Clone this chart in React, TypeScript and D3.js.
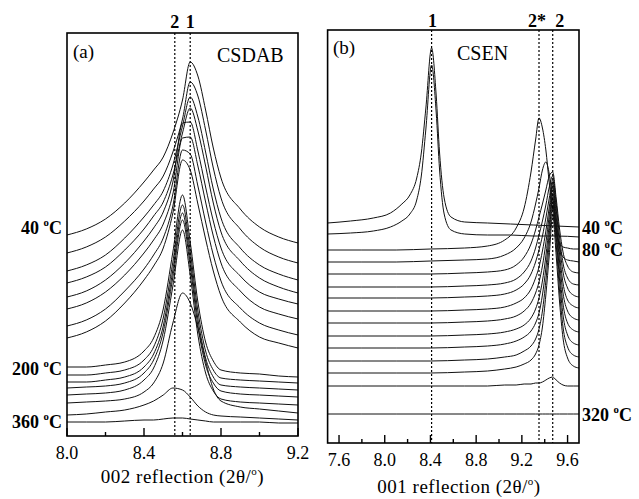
import React from 'react';
import * as d3 from 'd3';

// ---------- Panel (a): CSDAB, 002 reflection ----------
const XA = [8.0, 8.1, 8.2, 8.3, 8.4, 8.45, 8.5, 8.55, 8.6, 8.64, 8.68, 8.72, 8.76, 8.8, 8.9, 9.0, 9.1, 9.2];
// vertical offsets of each stacked pattern (top = 40 °C)
const offsetA = [201, 183, 165, 153, 139, 127, 110, 98, 69, 61, 54, 48, 41, 33, 21, 14];
const intensityA = [
  [0, 6, 16, 32, 53, 65, 78, 102, 135, 173, 159, 125, 87, 57, 26, 8, -2, -8],
  [0, 6, 16, 32, 52, 64, 77, 101, 134, 171, 157, 123, 85, 55, 24, 6, -4, -10],
  [0, 6, 16, 33, 54, 66, 80, 106, 145, 174, 154, 119, 82, 53, 23, 6, -3, -9],
  [0, 6, 16, 33, 54, 67, 81, 108, 150, 175, 152, 117, 80, 51, 22, 5, -4, -10],
  [0, 6, 17, 34, 56, 69, 85, 115, 174, 175, 146, 110, 76, 49, 21, 5, -2, -7],
  [0, 6, 17, 34, 56, 69, 85, 115, 171, 172, 143, 107, 73, 46, 18, 2, -5, -10],
  [0, 6, 17, 35, 57, 71, 88, 120, 176, 172, 140, 104, 71, 45, 18, 3, -4, -9],
  [0, 6, 17, 35, 58, 72, 90, 125, 178, 168, 134, 99, 67, 42, 16, 1, -5, -10],
  [0, 0, 2, 5, 16, 29, 58, 115, 172, 125, 65, 25, 6, -3, -6, -7, -9, -10],
  [0, 0, 2, 5, 15, 28, 57, 113, 170, 124, 64, 24, 5, -3, -5, -6, -7, -8],
  [0, 0, 2, 5, 15, 28, 56, 112, 169, 123, 63, 24, 5, -3, -5, -6, -7, -8],
  [0, 1, 2, 5, 15, 28, 56, 111, 168, 122, 62, 23, 5, -3, -6, -7, -8, -9],
  [0, 1, 2, 5, 15, 27, 55, 109, 165, 120, 60, 22, 4, -4, -7, -8, -9, -10],
  [0, 1, 2, 4, 11, 20, 40, 80, 110, 100, 75, 42, 14, 2, -4, -6, -8, -10],
  [0, 1, 3, 5, 10, 14, 20, 27, 25, 18, 9, 3, 0, -1, -2, -3, -4, -5],
  [0, 0, 0, 1, 2, 2, 3, 4, 4, 3, 2, 1, 0, 0, 0, 0, -1, -1],
];
const labelTextA = ['40', '200', '360'];
const labelCurveA = [0, 8, 15];
const peakPosA = [8.56, 8.64];
const peakLabelA = ['2', '1'];

// ---------- Panel (b): CSEN, 001 reflection ----------
const XB1 = [7.5, 7.7, 7.9, 8.05, 8.15, 8.22, 8.28, 8.32, 8.36, 8.41, 8.45, 8.48, 8.52, 8.58, 8.7, 8.9, 9.1, 9.3, 9.5, 9.7];
const XB2 = [7.5, 7.8, 8.1, 8.4, 8.7, 8.9, 9.05, 9.15, 9.22, 9.28, 9.32, 9.35, 9.38, 9.41, 9.44, 9.47, 9.5, 9.53, 9.56, 9.6, 9.65, 9.7];
const offsetB = [220, 209, 193, 181, 169, 156, 145, 132, 120, 107, 95, 82, 70, 57, 29];
// first two patterns (peak 1), sampled on XB1
const intensityB1 = [
  [0, 2, 5, 10, 19, 28, 45, 70, 115, 175, 128, 70, 25, 6, 1, 0, -1, -2, -3, -4],
  [0, 1, 3, 7, 13, 20, 34, 58, 105, 169, 122, 64, 20, 4, 0, -1, -1, -2, -2, -3],
];
// remaining patterns (peaks 2* / 2), sampled on XB2
const intensityB2 = [
  [0, 0, 0, 1, 2, 4, 10, 22, 42, 78, 110, 132, 122, 100, 67, 40, 18, 7, 3, 2, 1, 1],
  [0, 0, 0, 1, 2, 3, 7, 14, 24, 40, 58, 74, 92, 100, 88, 62, 35, 14, 5, 2, 1, 0],
  [0, 0, 0, 0, 1, 2, 4, 9, 17, 30, 44, 57, 70, 84, 98, 102, 76, 45, 22, 8, 2, 1],
  [0, 0, 0, 0, 1, 2, 4, 8, 15, 26, 39, 52, 66, 82, 100, 111, 84, 50, 24, 9, 3, 2],
  [0, 0, 0, 0, 1, 2, 4, 8, 14, 24, 36, 48, 62, 80, 100, 118, 89, 53, 26, 10, 3, 1],
  [0, 0, 0, 0, 1, 2, 4, 8, 13, 22, 33, 44, 60, 80, 104, 127, 95, 57, 28, 11, 5, 3],
  [0, 0, 0, 0, 1, 2, 4, 7, 12, 20, 30, 41, 57, 80, 108, 135, 101, 61, 30, 12, 5, 3],
  [0, 0, 0, 0, 1, 2, 4, 7, 11, 18, 27, 38, 55, 80, 112, 143, 107, 64, 32, 13, 6, 4],
  [0, 0, 0, 0, 1, 2, 4, 7, 11, 17, 25, 35, 53, 80, 115, 150, 112, 68, 33, 13, 5, 3],
  [0, 0, 0, 0, 1, 2, 4, 6, 10, 15, 22, 32, 50, 80, 118, 156, 117, 70, 34, 14, 6, 4],
  [0, 0, 0, 0, 1, 2, 4, 6, 9, 13, 19, 28, 46, 78, 118, 158, 118, 71, 35, 15, 7, 5],
  [0, 0, 0, 0, 0, 0, 1, 1, 2, 2, 3, 3, 4, 6, 8, 9, 6, 3, 1, 0, 0, 0],
  [0, 0, 0, 0, 0, 0, 0, 0, 0, 0, 0, 0, 0, 0, 0, 0, 0, 0, 0, 0, 0, 0],
];
const labelTextB = ['40', '80', '320'];
const labelCurveB = [0, 2, 14];
const peakPosB = [8.41, 9.35, 9.47];
const peakLabelB = ['1', '2*', '2'];

const FONT = '"Liberation Serif", "Times New Roman", Times, serif';

function Deg({ x, y, t, anchor, size }: { x: number; y: number; t: string; anchor: string; size: number }) {
  return (
    <text x={x} y={y} textAnchor={anchor as any} fontFamily={FONT} fontWeight="bold" fontSize={size} fill="#000">
      {t + ' '}
      <tspan fontSize={size * 0.6} dy={-size * 0.42}>o</tspan>
      <tspan dy={size * 0.42}>C</tspan>
    </text>
  );
}

function Axis({ x, y0, ticks }: { x: d3.ScaleLinear<number, number>; y0: number; ticks: number[] }) {
  return (
    <g>
      {ticks.map((t, i) => {
        const major = Math.round(t * 10) % 4 === 0;
        return (
          <g key={i}>
            <line x1={x(t)} x2={x(t)} y1={y0} y2={y0 - (major ? 8 : 4)} stroke="#000" strokeWidth={1.4} />
            {major && (
              <text x={x(t)} y={y0 + 23} textAnchor="middle" fontFamily={FONT} fontSize={18} fill="#000">
                {d3.format('.1f')(t)}
              </text>
            )}
          </g>
        );
      })}
    </g>
  );
}

export default function App() {
  // panel (a)
  const xA = d3.scaleLinear().domain([8.0, 9.2]).range([67, 298]);
  const yA = d3.scaleLinear().domain([0, 403]).range([436, 33]);
  const lineA = d3
    .line<number>()
    .x((_, i) => xA(XA[i]))
    .y((d) => yA(d))
    .curve(d3.curveMonotoneX);

  // panel (b)
  const xB = d3.scaleLinear().domain([7.5, 9.7]).range([327.6, 579]);
  const yB = d3.scaleLinear().domain([0, 413]).range([443, 30]);
  const lineB1 = d3
    .line<number>()
    .x((_, i) => xB(XB1[i]))
    .y((d) => yB(d))
    .curve(d3.curveMonotoneX);
  const lineB2 = d3
    .line<number>()
    .x((_, i) => xB(XB2[i]))
    .y((d) => yB(d))
    .curve(d3.curveMonotoneX);

  const ticksA = xA.ticks(6);
  const ticksB = xB.ticks(10);

  const labelDyA = [-1, 8, 6];
  const peakDxB = [1, -2, 7];

  const curvesB: { d: string }[] = [];
  intensityB1.forEach((arr, k) => curvesB.push({ d: lineB1(arr.map((v) => v + offsetB[k])) || '' }));
  intensityB2.forEach((arr, k) => curvesB.push({ d: lineB2(arr.map((v) => v + offsetB[k + 2])) || '' }));

  const rightValB = (k: number) => {
    if (k < 2) return offsetB[k] + intensityB1[k][intensityB1[k].length - 1];
    const a = intensityB2[k - 2];
    return offsetB[k] + a[a.length - 1];
  };

  return (
    <svg width={639} height={499} style={{ position: 'absolute', left: 0, top: 0, background: '#fff' }}>
      <rect x={0} y={0} width={639} height={499} fill="#fff" />
      {/* ---------- panel (a) ---------- */}
      <g>
        {intensityA.map((arr, k) => (
          <path key={k} d={lineA(arr.map((v) => v + offsetA[k])) || ''} fill="none" stroke="#111" strokeWidth={1} />
        ))}
        {peakPosA.map((p, i) => (
          <g key={i}>
            <line x1={xA(p)} x2={xA(p)} y1={33} y2={436} stroke="#000" strokeWidth={1.2} strokeDasharray="2,2" />
            <text x={xA(p)} y={28} textAnchor="middle" fontFamily={FONT} fontWeight="bold" fontSize={18}>
              {peakLabelA[i]}
            </text>
          </g>
        ))}
        <rect x={67} y={33} width={231} height={403} fill="none" stroke="#000" strokeWidth={1.6} />
        <Axis x={xA} y0={436} ticks={ticksA} />
        <text x={xA(8.6)} y={483} textAnchor="middle" fontFamily={FONT} fontSize={19} letterSpacing={0.5}>
          002 reflection (2θ/<tspan fontSize={11} dy={-8}>o</tspan>
          <tspan dy={8}>)</tspan>
        </text>
        <text x={73} y={58} fontFamily={FONT} fontSize={19}>(a)</text>
        <text x={217} y={62} fontFamily={FONT} fontSize={20}>CSDAB</text>
        {labelTextA.map((t, i) => (
          <Deg key={i} x={62} y={yA(offsetA[labelCurveA[i]]) + labelDyA[i]} t={t} anchor="end" size={18} />
        ))}
      </g>

      {/* ---------- panel (b) ---------- */}
      <g>
        {curvesB.map((c, k) => (
          <path key={k} d={c.d} fill="none" stroke="#111" strokeWidth={1} />
        ))}
        {peakPosB.map((p, i) => (
          <g key={i}>
            <line x1={xB(p)} x2={xB(p)} y1={30} y2={443} stroke="#000" strokeWidth={1.2} strokeDasharray="2,2" />
            <text x={xB(p) + peakDxB[i]} y={27} textAnchor="middle" fontFamily={FONT} fontWeight="bold" fontSize={18}>
              {peakLabelB[i]}
            </text>
          </g>
        ))}
        <rect x={327.6} y={30} width={251.4} height={413} fill="none" stroke="#000" strokeWidth={1.6} />
        <Axis x={xB} y0={443} ticks={ticksB} />
        <text x={xB(8.65)} y={493} textAnchor="middle" fontFamily={FONT} fontSize={19} letterSpacing={0.5}>
          001 reflection (2θ/<tspan fontSize={11} dy={-8}>o</tspan>
          <tspan dy={8}>)</tspan>
        </text>
        <text x={333} y={54} fontFamily={FONT} fontSize={19}>(b)</text>
        <text x={457} y={60} fontFamily={FONT} fontSize={20}>CSEN</text>
        {labelTextB.map((t, i) => (
          <Deg key={i} x={582} y={yB(rightValB(labelCurveB[i])) + 7} t={t} anchor="start" size={18} />
        ))}
      </g>
    </svg>
  );
}
